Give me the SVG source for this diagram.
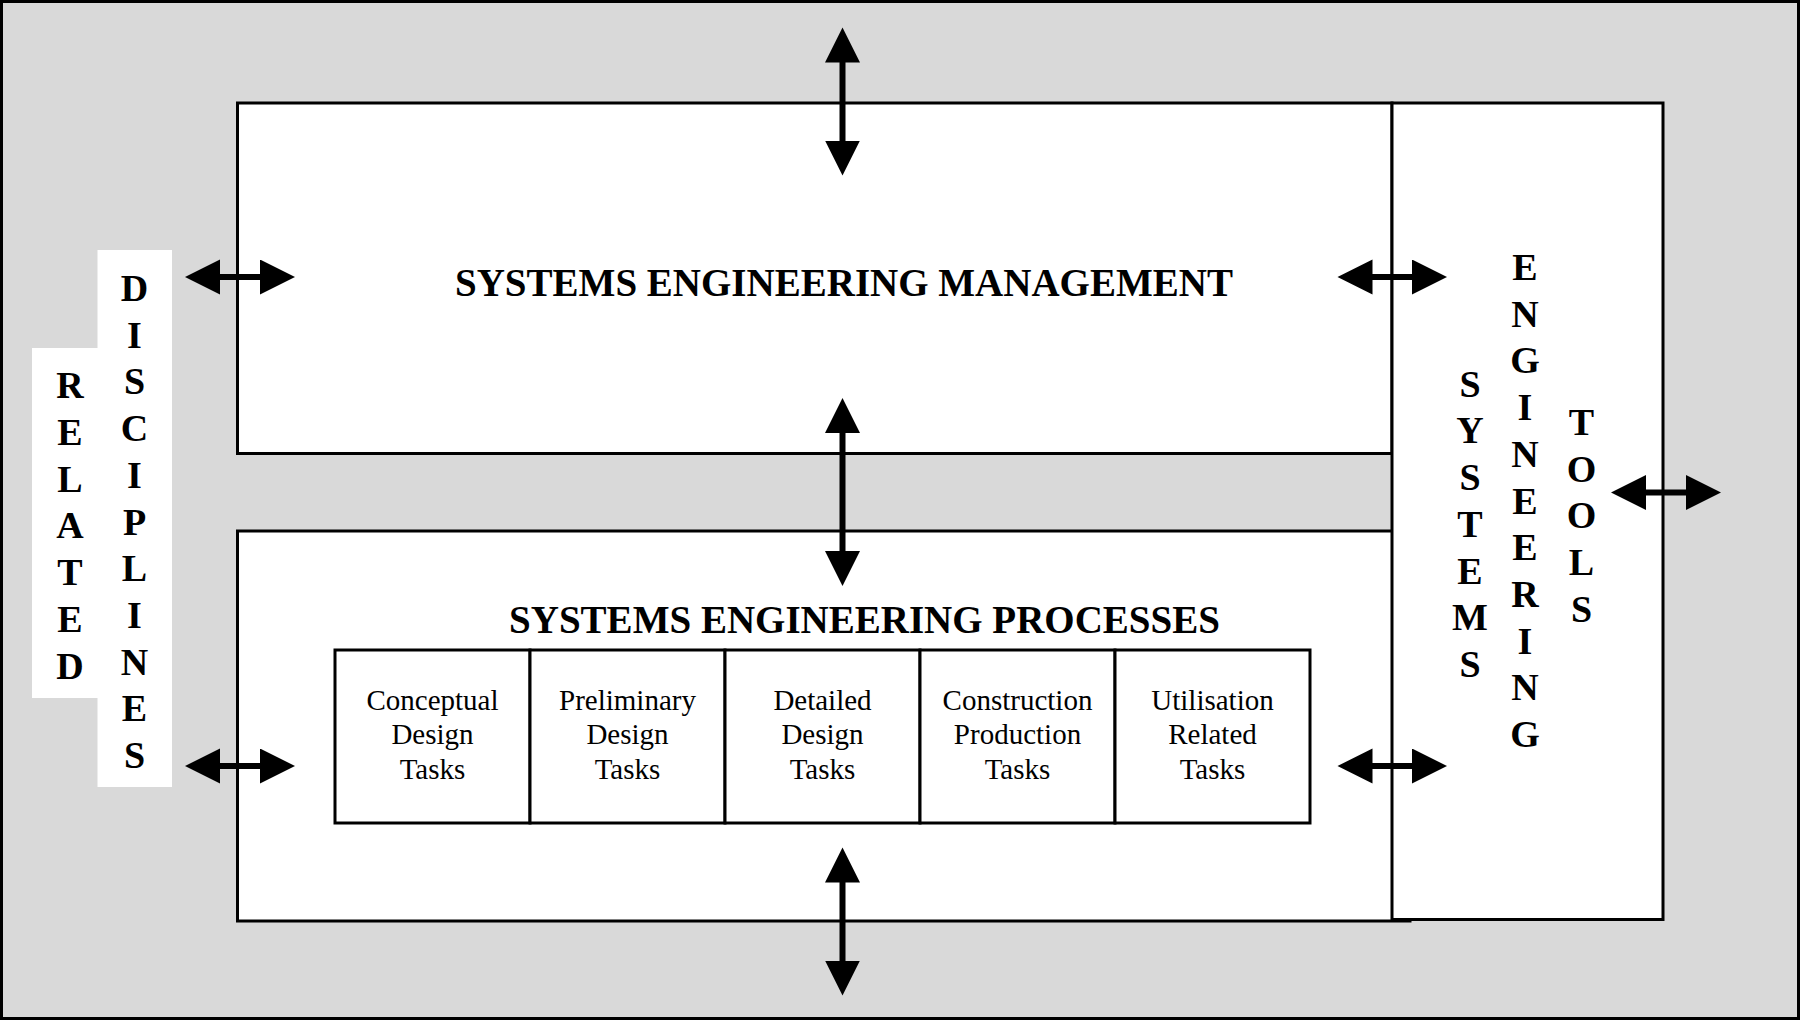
<svg xmlns="http://www.w3.org/2000/svg" width="1800" height="1020" viewBox="0 0 1800 1020">
<style>
.box{fill:#fff;stroke:#000;stroke-width:3}
.hd{font-family:"Liberation Serif","Times New Roman",serif;font-weight:bold;font-size:39px;text-anchor:middle;fill:#000}
.vt{font-family:"Liberation Serif","Times New Roman",serif;font-weight:bold;font-size:38px;text-anchor:middle;fill:#000}
.tk{font-family:"Liberation Serif","Times New Roman",serif;font-size:29px;text-anchor:middle;fill:#000}
.ar{stroke:#000;stroke-width:6;fill:none;marker-start:url(#ah);marker-end:url(#ah)}
</style>
<defs>
<marker id="ah" markerUnits="userSpaceOnUse" markerWidth="36" markerHeight="36" refX="25" refY="17.5" orient="auto-start-reverse" viewBox="0 0 36 36">
<path d="M0,0 L35,17.5 L0,35 Z" fill="#000"/>
</marker>
</defs>
<rect id="background" x="1.5" y="1.5" width="1797" height="1017" fill="#d9d9d9" stroke="#000" stroke-width="3"/>

<g id="related-disciplines">
<rect x="32" y="348" width="66" height="350" fill="#fff"/>
<rect x="97.5" y="250" width="74.5" height="537" fill="#fff"/>
<text class="vt"><tspan x="70" y="398">R</tspan><tspan x="70" dy="46.75">E</tspan><tspan x="70" dy="46.75">L</tspan><tspan x="70" dy="46.75">A</tspan><tspan x="70" dy="46.75">T</tspan><tspan x="70" dy="46.75">E</tspan><tspan x="70" dy="46.75">D</tspan></text>
<text class="vt"><tspan x="134.5" y="301">D</tspan><tspan x="134.5" dy="46.7">I</tspan><tspan x="134.5" dy="46.7">S</tspan><tspan x="134.5" dy="46.7">C</tspan><tspan x="134.5" dy="46.7">I</tspan><tspan x="134.5" dy="46.7">P</tspan><tspan x="134.5" dy="46.7">L</tspan><tspan x="134.5" dy="46.7">I</tspan><tspan x="134.5" dy="46.7">N</tspan><tspan x="134.5" dy="46.7">E</tspan><tspan x="134.5" dy="46.7">S</tspan></text>
</g>

<g id="management">
<rect class="box" x="237.5" y="103" width="1154.5" height="350.5"/>
<text class="hd" x="844" y="296">SYSTEMS ENGINEERING MANAGEMENT</text>
</g>

<g id="processes">
<rect class="box" x="237.5" y="531" width="1172.5" height="390"/>
<text class="hd" x="864.5" y="632.5">SYSTEMS ENGINEERING PROCESSES</text>
</g>

<g id="tools">
<rect class="box" x="1392" y="103" width="271" height="816.5"/>
<text class="vt"><tspan x="1470" y="396.7">S</tspan><tspan x="1470" dy="46.7">Y</tspan><tspan x="1470" dy="46.7">S</tspan><tspan x="1470" dy="46.7">T</tspan><tspan x="1470" dy="46.7">E</tspan><tspan x="1470" dy="46.7">M</tspan><tspan x="1470" dy="46.7">S</tspan></text>
<text class="vt"><tspan x="1525" y="280">E</tspan><tspan x="1525" dy="46.7">N</tspan><tspan x="1525" dy="46.7">G</tspan><tspan x="1525" dy="46.7">I</tspan><tspan x="1525" dy="46.7">N</tspan><tspan x="1525" dy="46.7">E</tspan><tspan x="1525" dy="46.7">E</tspan><tspan x="1525" dy="46.7">R</tspan><tspan x="1525" dy="46.7">I</tspan><tspan x="1525" dy="46.7">N</tspan><tspan x="1525" dy="46.7">G</tspan></text>
<text class="vt"><tspan x="1581.5" y="435">T</tspan><tspan x="1581.5" dy="46.7">O</tspan><tspan x="1581.5" dy="46.7">O</tspan><tspan x="1581.5" dy="46.7">L</tspan><tspan x="1581.5" dy="46.7">S</tspan></text>
</g>

<g id="task-conceptual">
<rect class="box" x="335" y="650" width="195" height="173"/>
<text class="tk"><tspan x="432.5" y="709.5">Conceptual</tspan><tspan x="432.5" y="744">Design</tspan><tspan x="432.5" y="778.5">Tasks</tspan></text>
</g>
<g id="task-preliminary">
<rect class="box" x="530" y="650" width="195" height="173"/>
<text class="tk"><tspan x="627.5" y="709.5">Preliminary</tspan><tspan x="627.5" y="744">Design</tspan><tspan x="627.5" y="778.5">Tasks</tspan></text>
</g>
<g id="task-detailed">
<rect class="box" x="725" y="650" width="195" height="173"/>
<text class="tk"><tspan x="822.5" y="709.5">Detailed</tspan><tspan x="822.5" y="744">Design</tspan><tspan x="822.5" y="778.5">Tasks</tspan></text>
</g>
<g id="task-construction">
<rect class="box" x="920" y="650" width="195" height="173"/>
<text class="tk"><tspan x="1017.5" y="709.5">Construction</tspan><tspan x="1017.5" y="744">Production</tspan><tspan x="1017.5" y="778.5">Tasks</tspan></text>
</g>
<g id="task-utilisation">
<rect class="box" x="1115" y="650" width="195" height="173"/>
<text class="tk"><tspan x="1212.5" y="709.5">Utilisation</tspan><tspan x="1212.5" y="744">Related</tspan><tspan x="1212.5" y="778.5">Tasks</tspan></text>
</g>

<g id="connectors">
<line class="ar" x1="842.5" y1="37.5" x2="842.5" y2="165.5"/>
<line class="ar" x1="842.5" y1="408" x2="842.5" y2="576"/>
<line class="ar" x1="842.5" y1="857.5" x2="842.5" y2="985.5"/>
<line class="ar" x1="195" y1="277" x2="285" y2="277"/>
<line class="ar" x1="195" y1="766" x2="285" y2="766"/>
<line class="ar" x1="1347.5" y1="277" x2="1437" y2="277"/>
<line class="ar" x1="1347.5" y1="766" x2="1437" y2="766"/>
<line class="ar" x1="1621" y1="492.5" x2="1711" y2="492.5"/>
</g>
</svg>
